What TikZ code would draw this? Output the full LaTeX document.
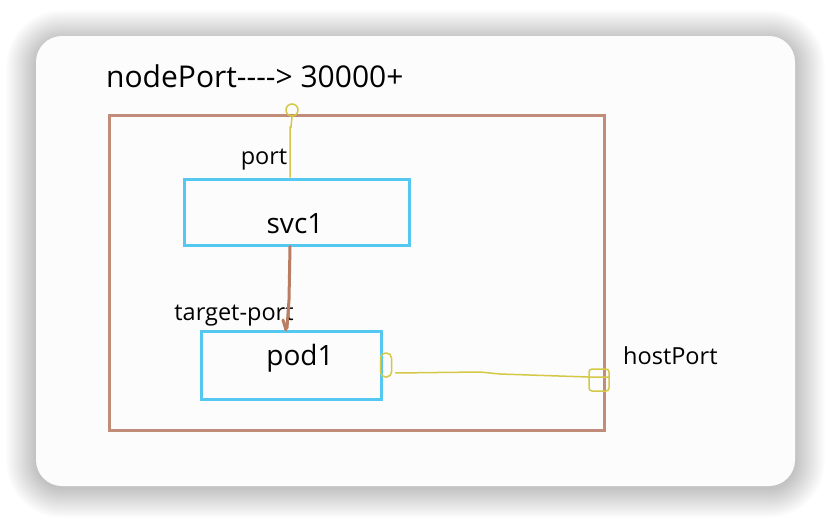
\documentclass[tikz,border=0pt]{standalone}
\usepackage{fontspec}
\setmainfont{Open Sans}
\definecolor{hostbrown}{RGB}{193,140,122}
\definecolor{boxcyan}{RGB}{84,200,240}
\definecolor{penyellow}{RGB}{212,200,70}
\definecolor{penbrown}{RGB}{185,125,100}
\begin{document}
\begin{tikzpicture}[x=1pt, y=-1pt,
  box/.style={draw=boxcyan, line width=3pt, inner sep=0pt},
  lab/.style={font=\fontsize{23.5}{26}\selectfont, inner sep=0pt},
  big/.style={font=\fontsize{28}{32}\selectfont, inner sep=0pt},
  pen/.style={penyellow, line width=1.5pt},
  ]
\useasboundingbox (0,0) rectangle (830,522);

% ---- Card with soft shadow -------------------------------------------------
\foreach \i in {1,...,30}
  \fill[black, opacity=0.007, rounded corners=26+\i]
    (36-\i, 40-\i) rectangle (795+\i, 488+\i);
\fill[white!99!black, rounded corners=26] (36,36) rectangle (795,486);

% ---- Host ------------------------------------------------------------------
\draw[hostbrown, line width=3pt] (109,115) rectangle (604,430);
\node[big, anchor=base west, font=\fontsize{30}{34}\selectfont] (np) at (106,87)
  {nodePort{-}{-}{-}{-}> 30000+};

% ---- Service and pod -------------------------------------------------------
\node[box, minimum width=225, minimum height=66] (svc) at (296.5,212) {};
\node[big] (svclab) at (295,224) {svc1};
\node[box, minimum width=180, minimum height=68] (pod) at (291,365) {};
\node[big] (podlab) at (300,358) {pod1};

\node[lab, anchor=base] (portlab) at (264,164) {port};
\node[lab, anchor=base] (tportlab) at (234,320) {target-port};
\node[lab, anchor=base west] (hostlab) at (623,364) {hostPort};

% ---- Pen marks -------------------------------------------------------------
\node[pen, draw, circle, minimum size=12pt, inner sep=0pt] (nptip) at (292,110) {};
\node[pen, draw, rounded corners=5pt, minimum width=11pt, minimum height=24pt,
      inner sep=0pt] (podtip) at (386,365) {};
\node[pen, draw, rounded corners=3pt, minimum width=20pt, minimum height=22pt,
      inner sep=0pt] (hosttip) at (599,380) {};

\draw[pen] (nptip.south) -- (291,127) -- (290,127) -- (svc.north -| 290,0);
\draw[penbrown, line width=3pt, line cap=round]
  (svc.south -| 290,0) -- (289,300) -- (287,328)
  (283,320) -- (286,330);
\draw[pen] (podtip.east) ++(3,8) -- (480,372) -- (500,374) -- (hosttip.west |- 0,377) -- (hosttip.east |- 0,377);
\end{tikzpicture}
\end{document}
